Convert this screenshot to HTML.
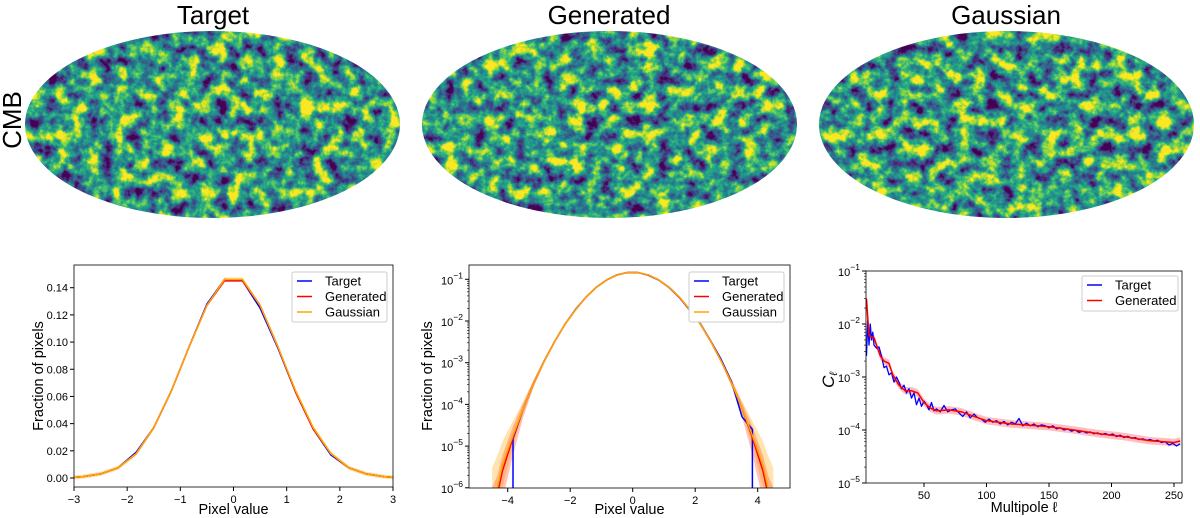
<!DOCTYPE html>
<html><head><meta charset="utf-8">
<style>
body{margin:0;background:#fff;}
svg{display:block;font-family:"Liberation Sans","DejaVu Sans",sans-serif;}
</style></head>
<body>
<svg id="fig" width="1200" height="518" viewBox="0 0 1200 518" xmlns="http://www.w3.org/2000/svg">
<defs>
<clipPath id="ell1"><ellipse cx="212.5" cy="124.5" rx="187.5" ry="93.5"/></clipPath>
<clipPath id="ell2"><ellipse cx="609.5" cy="124.5" rx="187.5" ry="93.5"/></clipPath>
<clipPath id="ell3"><ellipse cx="1006.5" cy="124.5" rx="187.5" ry="93.5"/></clipPath>
<filter id="cmb1" x="0" y="0" width="100%" height="100%" color-interpolation-filters="sRGB"><feTurbulence type="fractalNoise" baseFrequency="0.07" numOctaves="6" seed="3"/><feColorMatrix type="matrix" values="2.0 0 0 0 -0.45  2.0 0 0 0 -0.45  2.0 0 0 0 -0.45  0 0 0 0 1"/><feComponentTransfer><feFuncR type="table" tableValues="0.267 0.278 0.231 0.173 0.129 0.157 0.369 0.678 0.992"/><feFuncG type="table" tableValues="0.005 0.176 0.322 0.447 0.569 0.682 0.788 0.863 0.906"/><feFuncB type="table" tableValues="0.329 0.482 0.545 0.557 0.553 0.502 0.384 0.188 0.145"/></feComponentTransfer></filter>
<filter id="cmb2" x="0" y="0" width="100%" height="100%" color-interpolation-filters="sRGB"><feTurbulence type="fractalNoise" baseFrequency="0.07" numOctaves="6" seed="11"/><feColorMatrix type="matrix" values="2.0 0 0 0 -0.45  2.0 0 0 0 -0.45  2.0 0 0 0 -0.45  0 0 0 0 1"/><feComponentTransfer><feFuncR type="table" tableValues="0.267 0.278 0.231 0.173 0.129 0.157 0.369 0.678 0.992"/><feFuncG type="table" tableValues="0.005 0.176 0.322 0.447 0.569 0.682 0.788 0.863 0.906"/><feFuncB type="table" tableValues="0.329 0.482 0.545 0.557 0.553 0.502 0.384 0.188 0.145"/></feComponentTransfer></filter>
<filter id="cmb3" x="0" y="0" width="100%" height="100%" color-interpolation-filters="sRGB"><feTurbulence type="fractalNoise" baseFrequency="0.07" numOctaves="6" seed="27"/><feColorMatrix type="matrix" values="2.0 0 0 0 -0.45  2.0 0 0 0 -0.45  2.0 0 0 0 -0.45  0 0 0 0 1"/><feComponentTransfer><feFuncR type="table" tableValues="0.267 0.278 0.231 0.173 0.129 0.157 0.369 0.678 0.992"/><feFuncG type="table" tableValues="0.005 0.176 0.322 0.447 0.569 0.682 0.788 0.863 0.906"/><feFuncB type="table" tableValues="0.329 0.482 0.545 0.557 0.553 0.502 0.384 0.188 0.145"/></feComponentTransfer></filter>
</defs>
<g><rect x="25" y="31" width="375" height="187" filter="url(#cmb1)" clip-path="url(#ell1)"/></g>
<g><rect x="422" y="31" width="375" height="187" filter="url(#cmb2)" clip-path="url(#ell2)"/></g>
<g><rect x="819" y="31" width="375" height="187" filter="url(#cmb3)" clip-path="url(#ell3)"/></g>
<text x="213" y="24" font-size="26" text-anchor="middle">Target</text>
<text x="609" y="24" font-size="26" text-anchor="middle">Generated</text>
<text x="1006" y="24" font-size="26" text-anchor="middle">Gaussian</text>
<text transform="translate(21,120) rotate(-90)" font-size="26" text-anchor="middle">CMB</text>
<g id="charts"></g>
</svg>
<script>
// Panel 1: linear histogram
const p1Bins=[-3,-2.83,-2.5,-2.17,-1.83,-1.5,-1.17,-0.83,-0.5,-0.17,0.17,0.5,0.83,1.17,1.5,1.83,2.17,2.5,2.83,3];
const p1Target=[0.0005,0.001,0.003,0.0075,0.019,0.037,0.064,0.097,0.128,0.146,0.145,0.125,0.096,0.063,0.036,0.017,0.0075,0.003,0.001,0.0005];
const p1Generated=[0.0005,0.001,0.003,0.0075,0.018,0.037,0.064,0.097,0.127,0.145,0.145,0.127,0.097,0.063,0.036,0.018,0.0075,0.003,0.001,0.0005];
const p1Gaussian=[0.0005,0.001,0.003,0.0075,0.018,0.037,0.064,0.097,0.127,0.146,0.146,0.127,0.097,0.064,0.037,0.018,0.0075,0.003,0.001,0.0005];
const p1YTicks=[0,0.02,0.04,0.06,0.08,0.10,0.12,0.14];
const p1XTicks=[-3,-2,-1,0,1,2,3];
// Panel 2: log histogram
const p2Bins=[-4.5,-4.33,-4.17,-3.83,-3.5,-3.17,-2.83,-2.5,-2.17,-1.83,-1.5,-1.17,-0.83,-0.5,-0.17,0.17,0.5,0.83,1.17,1.5,1.83,2.17,2.5,2.83,3.17,3.5,3.83,4.17,4.33,4.5];
const p2Gaussian=[4e-7,1e-6,3.5e-6,1.8e-5,8e-5,3.2e-4,1.1e-3,3.2e-3,8.3e-3,1.85e-2,3.7e-2,6.4e-2,9.7e-2,1.27e-1,1.46e-1,1.46e-1,1.27e-1,9.7e-2,6.4e-2,3.7e-2,1.85e-2,8.3e-3,3.2e-3,1.1e-3,3.2e-4,8e-5,1.8e-5,3.5e-6,1e-6,4e-7];
const p2Generated=[3e-7,7e-7,2.5e-6,1.6e-5,8e-5,3.2e-4,1.1e-3,3.2e-3,8.3e-3,1.85e-2,3.7e-2,6.4e-2,9.7e-2,1.27e-1,1.45e-1,1.45e-1,1.27e-1,9.7e-2,6.4e-2,3.7e-2,1.85e-2,8.3e-3,3.2e-3,1.1e-3,3.2e-4,8e-5,1.6e-5,2.5e-6,7e-7,3e-7];
const p2GenLow=[1e-7,1e-7,5e-7,6e-6,5e-5,2.6e-4,1e-3,3e-3,8e-3,1.8e-2,3.6e-2,6.3e-2,9.6e-2,1.26e-1,1.44e-1,1.44e-1,1.26e-1,9.6e-2,6.3e-2,3.6e-2,1.8e-2,8e-3,3e-3,1e-3,2.6e-4,5e-5,6e-6,5e-7,1e-7,1e-7];
const p2GenHigh=[1e-6,2e-6,6e-6,3e-5,1.1e-4,3.8e-4,1.2e-3,3.4e-3,8.6e-3,1.9e-2,3.8e-2,6.5e-2,9.8e-2,1.28e-1,1.47e-1,1.47e-1,1.28e-1,9.8e-2,6.5e-2,3.8e-2,1.9e-2,8.6e-3,3.4e-3,1.2e-3,3.8e-4,1.1e-4,3e-5,6e-6,2e-6,1e-6];
const p2GauLow=[1e-7,2e-7,1e-6,1e-5,6e-5,2.8e-4,1e-3,3.1e-3,8.1e-3,1.82e-2,3.65e-2,6.35e-2,9.65e-2,1.26e-1,1.45e-1,1.45e-1,1.26e-1,9.65e-2,6.35e-2,3.65e-2,1.82e-2,8.1e-3,3.1e-3,1e-3,2.8e-4,6e-5,1e-5,1e-6,2e-7,1e-7];
const p2GauHigh=[3e-6,6e-6,1.3e-5,4e-5,1.2e-4,4e-4,1.25e-3,3.4e-3,8.6e-3,1.9e-2,3.8e-2,6.5e-2,9.8e-2,1.28e-1,1.47e-1,1.47e-1,1.28e-1,9.8e-2,6.5e-2,3.8e-2,1.9e-2,8.6e-3,3.4e-3,1.25e-3,4e-4,1.2e-4,4e-5,1.3e-5,6e-6,3e-6];
const p2TargetBins=[-3.83,-3.83,-3.5,-3.17,-2.83,-2.5,-2.17,-1.83,-1.5,-1.17,-0.83,-0.5,-0.17,0.17,0.5,0.83,1.17,1.5,1.83,2.17,2.5,2.83,3.17,3.5,3.83,3.83];
const p2Target=[1e-7,1.5e-5,8e-5,3.2e-4,1.1e-3,3.2e-3,8.3e-3,1.9e-2,3.7e-2,6.4e-2,9.7e-2,1.28e-1,1.46e-1,1.45e-1,1.25e-1,9.6e-2,6.3e-2,3.6e-2,1.8e-2,8.5e-3,3.3e-3,1.2e-3,3.4e-4,5e-5,2.5e-5,1e-7];
const p2XTicks=[-4,-2,0,2,4];
const p2YTicks=[-6,-5,-4,-3,-2,-1];
// Panel 3: power spectrum
const p3GenEll=[4,6,10,15,18,22,25,30,35,40,45,50,55,60,70,80,90,100,120,140,150,170,190,210,230,250,255];
const p3GenCl=[3e-2,6e-3,5.5e-3,2.5e-3,2e-3,1.8e-3,1.1e-3,7e-4,5.5e-4,5.5e-4,5e-4,3.3e-4,2.6e-4,2.3e-4,2.4e-4,2.2e-4,1.8e-4,1.5e-4,1.3e-4,1.2e-4,1.15e-4,1e-4,8.5e-5,7.5e-5,6.3e-5,5.8e-5,6.2e-5];
const p3TgtEll=[4,5,6,7,8,9,10,12,14,16,18,20,22,24,26,28,30,32,34,36,38,40,42,44,46,48,50,52,54,56,58,60,63,66,69,72,75,78,81,84,87,90,93,96,99,102,105,108,111,114,117,120,123,126,129,132,135,138,141,144,147,150,153,156,159,162,165,168,171,174,177,180,183,186,189,192,195,198,201,204,207,210,213,216,219,222,225,228,231,234,237,240,243,246,249,252,255];
const p3TgtCl=[2.5e-3,1.2e-2,4e-3,1e-2,5e-3,7e-3,4e-3,3.5e-3,3.7e-3,2.5e-3,1.5e-3,1.6e-3,1.1e-3,1.2e-3,8e-4,1e-3,8e-4,6e-4,7e-4,5e-4,6e-4,4e-4,5e-4,3e-4,4e-4,2.8e-4,3.5e-4,3e-4,2.4e-4,3.3e-4,2.3e-4,2.5e-4,2.2e-4,2.9e-4,2.2e-4,2.4e-4,2.5e-4,2.1e-4,1.8e-4,2.2e-4,1.7e-4,2e-4,1.7e-4,1.6e-4,1.4e-4,1.6e-4,1.4e-4,1.5e-4,1.3e-4,1.45e-4,1.25e-4,1.4e-4,1.3e-4,1.65e-4,1.2e-4,1.35e-4,1.2e-4,1.3e-4,1.15e-4,1.25e-4,1.2e-4,1.1e-4,1.2e-4,1.05e-4,1.1e-4,1e-4,1.05e-4,9.5e-5,1e-4,9e-5,9.5e-5,8.8e-5,9.2e-5,8.5e-5,8.8e-5,8.2e-5,8.6e-5,8e-5,8.4e-5,7.5e-5,8e-5,7.2e-5,7.6e-5,7e-5,7.2e-5,6.6e-5,6.8e-5,6.4e-5,6.6e-5,6.2e-5,6.4e-5,5.8e-5,6e-5,5.2e-5,5.6e-5,5e-5,5.5e-5];
const p3XTicks=[50,100,150,200,250];
const p3YTicks=[-5,-4,-3,-2,-1];

const NS="http://www.w3.org/2000/svg";
const root=document.getElementById('charts');
function mk(tag,attrs,parent){const e=document.createElementNS(NS,tag);for(const k in attrs)e.setAttribute(k,attrs[k]);(parent||root).appendChild(e);return e;}
function poly(xs,ys,sx,sy,color,w,parent){return mk('polyline',{points:xs.map((x,i)=>sx(x).toFixed(2)+','+sy(ys[i]).toFixed(2)).join(' '),fill:'none',stroke:color,'stroke-width':w,'stroke-linejoin':'round'},parent);}
function band(xs,lo,hi,sx,sy,color,op,parent){const pts=xs.map((x,i)=>sx(x)+','+sy(hi[i])).concat(xs.map((x,i)=>sx(x)+','+sy(lo[i])).reverse());return mk('polygon',{points:pts.join(' '),fill:color,'fill-opacity':op,stroke:'none'},parent);}
function sup(g,x,y,exp){const t=mk('text',{x:x,y:y,'font-size':11,'text-anchor':'end'},g);t.textContent='10';const s=mk('tspan',{dy:-6,'font-size':8.5},t);s.textContent='\u2212'+Math.abs(exp);return t;}
function legend(g,x,y,w,h,items){mk('rect',{x:x,y:y,width:w,height:h,fill:'#fff',stroke:'#ccc','stroke-width':1,rx:2},g);items.forEach((it,i)=>{const cy=y+9+i*15.5;mk('line',{x1:x+5,x2:x+20,y1:cy,y2:cy,stroke:it[1],'stroke-width':1.5},g);const t=mk('text',{x:x+33,y:cy+4.5,'font-size':13},g);t.textContent=it[0];});}
function frame(g,L,T,R,B){mk('rect',{x:L,y:T,width:R-L,height:B-T,fill:'none',stroke:'#000','stroke-width':0.8},g);}
function clip(id,L,T,R,B){const c=mk('clipPath',{id:id});mk('rect',{x:L,y:T,width:R-L,height:B-T},c);}

// ---- Panel 1 ----
{const L=74,T=265,R=393,B=487;
const sx=v=>L+(v+3)/6*(R-L), sy=v=>478-v/0.14*(478-287.7);
const g=mk('g',{});


clip('c1',L,T,R,B);
const d=mk('g',{'clip-path':'url(#c1)'},g);
band(p1Bins,p1Gaussian.map(v=>v-0.0015),p1Gaussian.map(v=>v+0.0015),sx,sy,'orange',0.35,d);
poly(p1Bins,p1Target,sx,sy,'blue',1.5,d);
poly(p1Bins,p1Generated,sx,sy,'red',1.5,d);
poly(p1Bins,p1Gaussian,sx,sy,'orange',1.5,d);
frame(g,L,T,R,B);
p1YTicks.forEach(v=>{mk('line',{x1:L-4,x2:L,y1:sy(v),y2:sy(v),stroke:'#000'},g);const t=mk('text',{x:L-6,y:sy(v)+4,'font-size':11,'text-anchor':'end'},g);t.textContent=v.toFixed(2);});
p1XTicks.forEach(v=>{mk('line',{x1:sx(v),x2:sx(v),y1:B,y2:B+4,stroke:'#000'},g);const t=mk('text',{x:sx(v),y:B+16,'font-size':11,'text-anchor':'middle'},g);t.textContent=v<0?'\u2212'+(-v):v;});
const xl=mk('text',{x:(L+R)/2,y:514,'font-size':14.5,'text-anchor':'middle'},g);xl.textContent='Pixel value';

const yl=mk('text',{transform:'translate(43,376) rotate(-90)','font-size':14.5,'text-anchor':'middle'},g);yl.textContent='Fraction of pixels';

const lg=mk('g',{},g);


legend(lg,292,272,95,50,[['Target','blue'],['Generated','red'],['Gaussian','orange']]);}

// ---- Panel 2 ----
{const L=469,T=265,R=790,B=488;
const sx=v=>632.7+v*31.25, sy=v=>279.3+(-1-Math.log10(v))*41.7;
const g=mk('g',{});


clip('c2',L,T,R,B);
const d=mk('g',{'clip-path':'url(#c2)'},g);
band(p2Bins,p2GauLow,p2GauHigh,sx,sy,'orange',0.3,d);
band(p2Bins,p2GenLow,p2GenHigh,sx,sy,'#ff5a2a',0.35,d);
poly(p2TargetBins,p2Target,sx,sy,'blue',1.5,d);
poly(p2Bins,p2Generated,sx,sy,'red',1.5,d);
poly(p2Bins,p2Gaussian,sx,sy,'orange',1.5,d);
frame(g,L,T,R,B);
p2YTicks.forEach(e=>{const y=sy(Math.pow(10,e));mk('line',{x1:L-4,x2:L,y1:y,y2:y,stroke:'#000'},g);sup(g,L-6,y+5,e);
 for(let k=2;k<10&&e<-1;k++){const ym=sy(k*Math.pow(10,e));mk('line',{x1:L-2,x2:L,y1:ym,y2:ym,stroke:'#000','stroke-width':0.6},g);}});
p2XTicks.forEach(v=>{mk('line',{x1:sx(v),x2:sx(v),y1:B,y2:B+4,stroke:'#000'},g);const t=mk('text',{x:sx(v),y:B+16,'font-size':11,'text-anchor':'middle'},g);t.textContent=v<0?'\u2212'+(-v):v;});
const xl=mk('text',{x:(L+R)/2,y:514,'font-size':14.5,'text-anchor':'middle'},g);xl.textContent='Pixel value';

const yl=mk('text',{transform:'translate(432,376) rotate(-90)','font-size':14.5,'text-anchor':'middle'},g);yl.textContent='Fraction of pixels';

const lg=mk('g',{},g);


legend(lg,689,272,95,50,[['Target','blue'],['Generated','red'],['Gaussian','orange']]);}

// ---- Panel 3 ----
{const L=866,T=271,R=1182,B=483;
const sx=v=>861.5+v*1.25, sy=v=>T+(-1-Math.log10(v))*53;
const g=mk('g',{});


clip('c3',L,T,R,B);
const d=mk('g',{'clip-path':'url(#c3)'},g);
band(p3GenEll,p3GenCl.map(v=>v*0.85),p3GenCl.map(v=>v*1.18),sx,sy,'red',0.25,d);
poly(p3TgtEll,p3TgtCl,sx,sy,'blue',1.3,d);
poly(p3GenEll,p3GenCl,sx,sy,'red',1.5,d);
frame(g,L,T,R,B);
p3YTicks.forEach(e=>{const y=sy(Math.pow(10,e));mk('line',{x1:L-4,x2:L,y1:y,y2:y,stroke:'#000'},g);sup(g,L-6,y+5,e);
 for(let k=2;k<10&&e<-1;k++){const ym=sy(k*Math.pow(10,e));mk('line',{x1:L-2,x2:L,y1:ym,y2:ym,stroke:'#000','stroke-width':0.6},g);}});
p3XTicks.forEach(v=>{mk('line',{x1:sx(v),x2:sx(v),y1:B,y2:B+4,stroke:'#000'},g);const t=mk('text',{x:sx(v),y:B+16,'font-size':11,'text-anchor':'middle'},g);t.textContent=v;});
const xl=mk('text',{x:(L+R)/2,y:512,'font-size':14.5,'text-anchor':'middle'},g);xl.textContent='Multipole \u2113';

const yl=mk('text',{transform:'translate(834,380) rotate(-90)','font-size':17,'text-anchor':'middle','font-style':'italic'},g);yl.textContent='C';

const ys=mk('tspan',{'font-size':11,dy:3},yl);ys.textContent='\u2113';
const lg=mk('g',{},g);


legend(lg,1082,276,96,35,[['Target','blue'],['Generated','red']]);}
</script>
</body></html>
